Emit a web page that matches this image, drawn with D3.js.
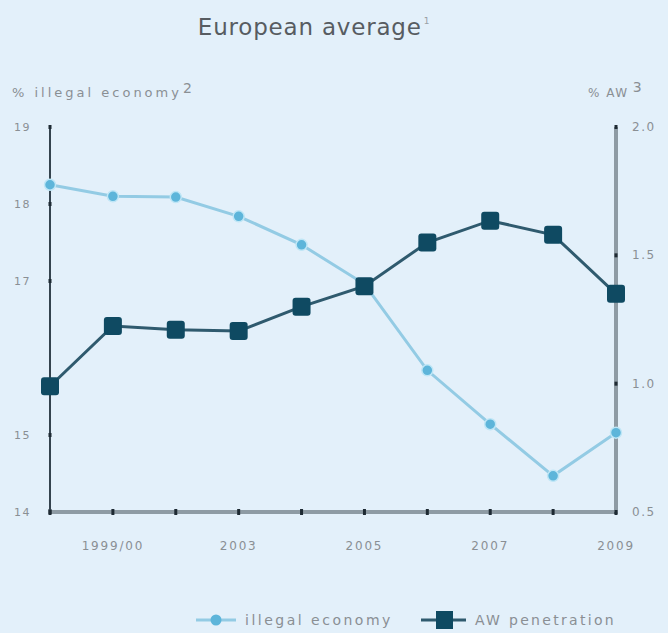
<!DOCTYPE html>
<html>
<head>
<meta charset="utf-8">
<script src="https://cdn.jsdelivr.net/npm/d3@7"></script>
<style>
  html, body { margin: 0; padding: 0; background: #e3f0fa; }
  svg { display: block; font-family: "DejaVu Sans", sans-serif; }
</style>
</head>
<body>
<script>
// x categories (only some are labelled in the original)
const years = ['1998', '1999/00', '2001/02', '2003', '2004', '2005', '2006', '2007', '2008', '2009'];
const shownYears = ['1999/00', '2003', '2005', '2007', '2009'];

// % illegal economy (left axis)
const illegalEconomy = [18.25, 18.1, 18.09, 17.84, 17.47, 16.96, 15.84, 15.14, 14.47, 15.03];
// % AW penetration (right axis)
const awPenetration = [0.99, 1.225, 1.21, 1.205, 1.3, 1.38, 1.55, 1.635, 1.58, 1.35];

const leftTicks = [14, 15, 17, 18, 19];
const rightTicks = [0.5, 1.0, 1.5, 2.0];

const width = 668,
    height = 633;

const lightLine = '#93cbe4',
    lightDot = '#5db5da',
    darkLine = '#2f5a6e',
    darkMark = '#0f4a62',
    textGrey = '#8a8f94';

const svg = d3.select('body')
    .append('svg')
    .attr('width', width)
    .attr('height', height);

const x = d3.scalePoint()
    .domain(years)
    .range([50, 616]);

const yLeft = d3.scaleLinear()
    .domain([14, 19])
    .range([512, 127]);

const yRight = d3.scaleLinear()
    .domain([0.5, 2.0])
    .range([512, 127]);

// title
const title = svg.append('text')
    .attr('x', 314)
    .attr('y', 35)
    .attr('text-anchor', 'middle')
    .attr('fill', '#575c61')
    .style('font-size', '23px')
    .style('letter-spacing', '0.8px');
title.append('tspan').text('European average');
title.append('tspan').attr('dx', 2).attr('dy', -11).style('font-size', '9px').attr('fill', '#9aa0a5').text('1');

// axis titles
const lt = svg.append('text')
    .attr('x', 12)
    .attr('y', 97)
    .attr('fill', textGrey)
    .style('font-size', '13px')
    .style('letter-spacing', '3px');
lt.append('tspan').text('% illegal economy');
lt.append('tspan').attr('dx', 1).attr('dy', -4).style('font-size', '14px').style('letter-spacing', '0').text('2');

const rt = svg.append('text')
    .attr('x', 588)
    .attr('y', 97)
    .attr('fill', textGrey)
    .style('font-size', '12px')
    .style('letter-spacing', '1.5px');
rt.append('tspan').text('% AW');
rt.append('tspan').attr('dx', 4).attr('dy', -5).style('font-size', '14px').style('letter-spacing', '0').text('3');

// bottom axis (thick grey)
svg.append('line')
    .attr('x1', x(years[0]))
    .attr('x2', x(years[years.length - 1]))
    .attr('y1', yLeft(14))
    .attr('y2', yLeft(14))
    .attr('stroke', '#8e9ba4')
    .attr('stroke-width', 4);

svg.selectAll('.xtick')
    .data(years)
    .enter()
    .append('rect')
    .attr('class', 'xtick')
    .attr('x', d => x(d) - 1.5)
    .attr('y', yLeft(14) - 3)
    .attr('width', 3)
    .attr('height', 6)
    .attr('fill', '#1e2a33');

svg.selectAll('.xlabel')
    .data(shownYears)
    .enter()
    .append('text')
    .attr('class', 'xlabel')
    .attr('x', d => x(d))
    .attr('y', 550)
    .attr('text-anchor', 'middle')
    .attr('fill', textGrey)
    .style('font-size', '12px')
    .style('letter-spacing', '1.8px')
    .text(d => d);

// left axis
svg.append('line')
    .attr('x1', x(years[0]))
    .attr('x2', x(years[0]))
    .attr('y1', yLeft(19))
    .attr('y2', yLeft(14))
    .attr('stroke', '#34434e')
    .attr('stroke-width', 2);

svg.selectAll('.ltick')
    .data(leftTicks)
    .enter()
    .append('rect')
    .attr('x', x(years[0]) - 1.5)
    .attr('y', d => yLeft(d) - 2)
    .attr('width', 3)
    .attr('height', 4)
    .attr('fill', '#1e2a33');

svg.selectAll('.llabel')
    .data(leftTicks)
    .enter()
    .append('text')
    .attr('x', 31)
    .attr('y', d => yLeft(d) + 4)
    .attr('text-anchor', 'end')
    .attr('fill', textGrey)
    .style('font-size', '11px')
    .style('letter-spacing', '1.5px')
    .text(d => d);

// right axis (grey)
svg.append('line')
    .attr('x1', x(years[years.length - 1]))
    .attr('x2', x(years[years.length - 1]))
    .attr('y1', yRight(2.0))
    .attr('y2', yRight(0.5))
    .attr('stroke', '#8e9ba4')
    .attr('stroke-width', 4);

svg.selectAll('.rtick')
    .data(rightTicks)
    .enter()
    .append('rect')
    .attr('x', x(years[years.length - 1]) - 1.5)
    .attr('y', d => yRight(d) - 2)
    .attr('width', 3)
    .attr('height', 4)
    .attr('fill', '#1e2a33');

svg.selectAll('.rlabel')
    .data(rightTicks)
    .enter()
    .append('text')
    .attr('x', 632)
    .attr('y', d => yRight(d) + 4)
    .attr('fill', textGrey)
    .style('font-size', '12px')
    .style('letter-spacing', '1.5px')
    .text(d => d.toFixed(1));

// illegal economy line
const lineLeft = d3.line()
    .x((d, i) => x(years[i]))
    .y(d => yLeft(d));

svg.append('path')
    .datum(illegalEconomy)
    .attr('d', lineLeft)
    .attr('fill', 'none')
    .attr('stroke', lightLine)
    .attr('stroke-width', 3);

svg.selectAll('.dot')
    .data(illegalEconomy)
    .enter()
    .append('circle')
    .attr('cx', (d, i) => x(years[i]))
    .attr('cy', d => yLeft(d))
    .attr('r', 5.5)
    .attr('fill', lightDot)
    .attr('stroke', '#bfe6f6')
    .attr('stroke-width', 1.5);

// AW penetration line
const lineRight = d3.line()
    .x((d, i) => x(years[i]))
    .y(d => yRight(d));

svg.append('path')
    .datum(awPenetration)
    .attr('d', lineRight)
    .attr('fill', 'none')
    .attr('stroke', darkLine)
    .attr('stroke-width', 3);

svg.selectAll('.sq')
    .data(awPenetration)
    .enter()
    .append('rect')
    .attr('x', (d, i) => x(years[i]) - 9)
    .attr('y', d => yRight(d) - 9)
    .attr('width', 18)
    .attr('height', 18)
    .attr('rx', 3)
    .attr('fill', darkMark);

// legend
const legend = svg.append('g');

legend.append('line')
    .attr('x1', 196).attr('x2', 236)
    .attr('y1', 620).attr('y2', 620)
    .attr('stroke', lightLine)
    .attr('stroke-width', 3);
legend.append('circle')
    .attr('cx', 216).attr('cy', 620)
    .attr('r', 5.5)
    .attr('fill', lightDot);
legend.append('text')
    .attr('x', 245).attr('y', 625)
    .attr('fill', textGrey)
    .style('font-size', '14px')
    .style('letter-spacing', '2.5px')
    .text('illegal economy');

legend.append('line')
    .attr('x1', 421).attr('x2', 466)
    .attr('y1', 620).attr('y2', 620)
    .attr('stroke', darkLine)
    .attr('stroke-width', 3);
legend.append('rect')
    .attr('x', 436).attr('y', 611)
    .attr('width', 17).attr('height', 18)
    .attr('fill', darkMark);
legend.append('text')
    .attr('x', 475).attr('y', 625)
    .attr('fill', textGrey)
    .style('font-size', '14px')
    .style('letter-spacing', '2.3px')
    .text('AW penetration');
</script>
</body>
</html>
